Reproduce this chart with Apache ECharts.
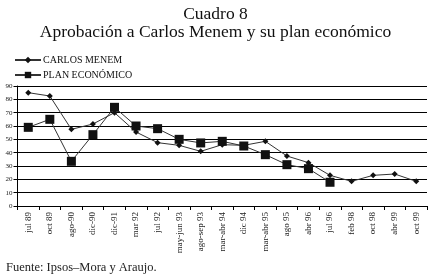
<!DOCTYPE html>
<html>
<head>
<meta charset="utf-8">
<script src="https://cdn.jsdelivr.net/npm/echarts@6/dist/echarts.min.js"></script>
<style>
html,body{margin:0;padding:0;background:#fff;}
#chart{width:431px;height:276px;}
</style>
</head>
<body>
<div id="chart"></div>
<script>
var categories = ['jul 89','oct 89','ago-90','dic-90','dic-91','mar 92','jul 92','may-jun 93','ago-sep 93','mar-abr 94','dic 94','mar-abr 95','ago 95','abr 96','jul 96','feb 98','oct 98','abr 99','oct 99'];
var menem = [85, 82.5, 57.5, 61.5, 70, 55.5, 47.5, 45.5, 41, 46, 45.5, 48.5, 37.5, 32.5, 23, 18.5, 23, 24, 18.5];
var plan = [59, 65, 33.5, 53.5, 74, 60, 58, 50, 47.3, 48.5, 45, 38.5, 31, 28, 17.8, null, null, null, null];
var yTicks = [0, 90, 10];

var serif = '"Liberation Serif", "DejaVu Serif", serif';
var chart = echarts.init(document.getElementById('chart'), null, {renderer: 'canvas'});
chart.setOption({
  animation: false,
  backgroundColor: '#fff',
  title: {
    text: 'Cuadro 8\nAprobación a Carlos Menem y su plan económico',
    left: 'center', top: 0,
    textStyle: {fontFamily: serif, fontSize: 17.5, fontWeight: 'normal', color: '#111', lineHeight: 18}
  },
  legend: {
    orient: 'vertical', left: 9, top: 50, itemWidth: 26, itemHeight: 8, itemGap: 5,
    textStyle: {fontFamily: serif, fontSize: 10, color: '#111', padding: [0,0,0,-3]},
    data: [{name: 'CARLOS MENEM'}, {name: 'PLAN ECONÓMICO'}]
  },
  grid: {left: 17.5, right: 4, top: 86, bottom: 70, containLabel: false},
  xAxis: {
    type: 'category', data: categories, boundaryGap: true,
    axisLine: {lineStyle: {color: '#000', width: 1}},
    axisTick: {show: true, length: 4, inside: false, lineStyle: {color: '#000'}},
    axisLabel: {rotate: 90, fontFamily: serif, fontSize: 9, color: '#222', margin: 6, interval: 0}
  },
  yAxis: {
    type: 'value', min: yTicks[0], max: yTicks[1], interval: yTicks[2],
    axisLine: {show: true, lineStyle: {color: '#000', width: 1}},
    axisTick: {show: true, length: 4, lineStyle: {color: '#000'}},
    axisLabel: {fontFamily: serif, fontSize: 7, color: '#222', margin: 5},
    splitLine: {show: true, lineStyle: {color: '#000', width: 1}}
  },
  series: [
    {
      name: 'CARLOS MENEM', type: 'line', data: menem,
      symbol: 'diamond', symbolSize: 6,
      lineStyle: {color: '#333', width: 1},
      itemStyle: {color: '#111'}
    },
    {
      name: 'PLAN ECONÓMICO', type: 'line', data: plan,
      symbol: 'rect', symbolSize: 9,
      lineStyle: {color: '#333', width: 1},
      itemStyle: {color: '#111'}
    }
  ],
  graphic: [{
    type: 'text', left: 6, top: 261,
    style: {text: 'Fuente: Ipsos–Mora y Araujo.', fontFamily: serif, fontSize: 12.5, fill: '#222'}
  }]
});
</script>
</body>
</html>
